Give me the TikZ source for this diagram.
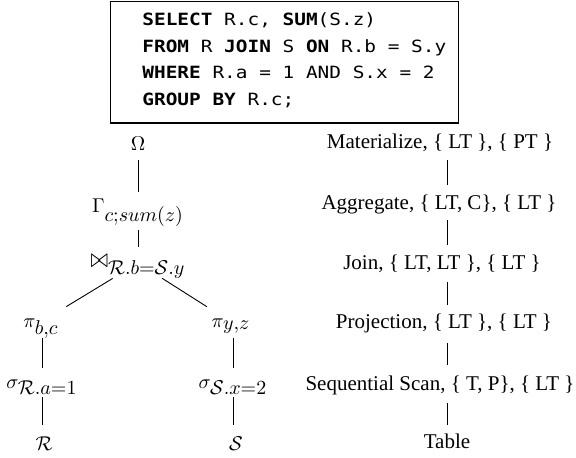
\documentclass[tikz,border=0pt]{standalone}
\usepackage{graphicx}
\usepackage[no-math]{fontspec}
\setmainfont{Liberation Serif}
\newfontfamily\sqlfont[FakeStretch=1.15]{DejaVu Sans Mono}
\DeclareMathSizes{10}{10}{10}{10}
\newcommand{\myjoin}{\mathop{\mbox{\scalebox{1.05}[1.35]{$\bowtie$}}}\nolimits}
\begin{document}
\begin{tikzpicture}[x=0.5pt,y=-0.5pt,
  tn/.style={inner sep=0pt,text height=7pt,text depth=2pt,anchor=base,font=\fontsize{10}{12}\selectfont},
  lb/.style={tn,font=\fontsize{10.5}{12}\selectfont},
  sq/.style={inner sep=0pt,anchor=base west,font=\sqlfont\fontsize{8.44}{10}\selectfont},
  ed/.style={line width=0.45pt},
  e/.style n args={2}{ed,shorten <=#1,shorten >=#2}]
\useasboundingbox (0,0) rectangle (576,458);
% SQL box
\node[draw,line width=0.65pt,inner sep=0pt,minimum width=174pt,minimum height=60.75pt,anchor=north west] (sql) at (110,1) {};
\node[sq] (l1) at (142,26) {\textbf{SELECT} R.c, \textbf{SUM}(S.z)};
\node[sq] (l2) at (142,52.5) {\textbf{FROM} R \textbf{JOIN} S \textbf{ON} R.b = S.y};
\node[sq] (l3) at (142,79) {\textbf{WHERE} R.a = 1 AND S.x = 2};
\node[sq] (l4) at (142,106) {\textbf{GROUP BY} R.c;};
% algebra tree
\node[tn] (om)   at (138,151) {$\Omega$};
\node[tn] (gam)  at (138,213) {$\Gamma_{c;sum(z)}$};
\node[tn] (join) at (138,268) {$\myjoin_{\mathcal{R}.b=\mathcal{S}.y}$};
\node[tn] (piL)  at (41,327)  {$\pi_{b,c}$};
\node[tn] (sigL) at (42,388)  {$\sigma_{\mathcal{R}.a=1}$};
\node[tn] (R)    at (44,450)  {$\mathcal{R}$};
\node[tn] (piR)  at (231,327) {$\pi_{y,z}$};
\node[tn] (sigS) at (233,388) {$\sigma_{\mathcal{S}.x=2}$};
\node[tn] (S)    at (236,450) {$\mathcal{S}$};
\draw[e={2.5pt}{3.5pt}] (om) -- (gam);
\draw[e={6.5pt}{3.5pt}] (gam) -- (join);
\draw[e={5.8pt}{5.8pt}] (join) -- (piL);
\draw[e={5.5pt}{5.5pt}] (join) -- (piR);
\draw[e={3.5pt}{3pt}] (sigL |- piL.south) -- (sigL.north);
\draw[e={2.5pt}{5.5pt}] (sigL.south) -- (sigL |- R.north);
\draw[e={3.5pt}{3pt}] (sigS |- piR.south) -- (sigS.north);
\draw[e={2.5pt}{5.5pt}] (sigS.south) -- (sigS |- S.north);
% physical plan
\node[lb] (mat)   at (440,149) {Materialize, \{ LT \}, \{ PT \}};
\node[lb] (agg)   at (439,210) {Aggregate, \{ LT, C\}, \{ LT \}};
\node[lb] (joinl) at (442,270) {Join, \{ LT, LT \}, \{ LT \}};
\node[lb] (proj)  at (444,328) {Projection, \{ LT \}, \{ LT \}};
\node[lb] (seq)   at (440,390) {Sequential Scan, \{ T, P\}, \{ LT \}};
\node[lb] (tab)   at (447,448) {Table};
\draw[e={3.5pt}{5.5pt}] (tab |- mat.south) -- (tab |- agg.north);
\draw[e={3pt}{5.5pt}] (tab |- agg.south) -- (tab |- joinl.north);
\draw[e={4pt}{4.5pt}] (tab |- joinl.south) -- (tab |- proj.north);
\draw[e={5.5pt}{5.5pt}] (tab |- proj.south) -- (tab |- seq.north);
\draw[e={4.5pt}{4.5pt}] (tab |- seq.south) -- (tab.north);
\end{tikzpicture}
\end{document}
